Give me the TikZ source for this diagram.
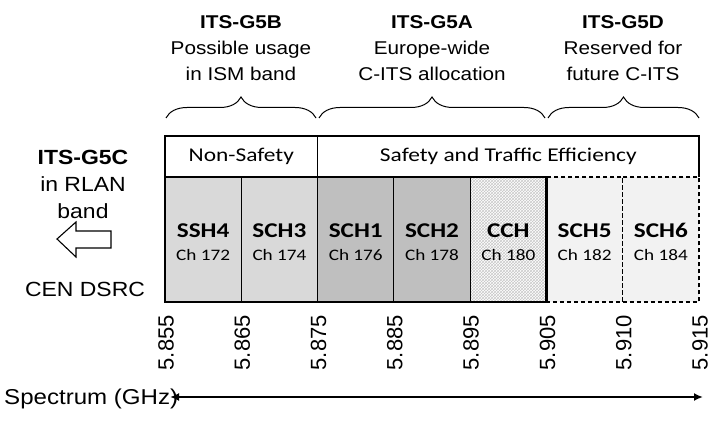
\documentclass[tikz,border=0pt]{standalone}
\usepackage{fontspec}
\setmainfont{Liberation Sans}[FakeStretch=1.12]
\newfontfamily\calfont{Carlito}[FakeStretch=1.2]
\newfontfamily\tickfont{Liberation Sans}
\usetikzlibrary{arrows.meta,positioning,fit,patterns,decorations.pathreplacing}
\definecolor{GLight}{HTML}{D9D9D9}
\definecolor{GDark}{HTML}{BFBFBF}
\definecolor{GPale}{HTML}{F2F2F2}
\definecolor{GDot}{HTML}{C8C8C8}
\newcommand{\chlabel}[2]{{\fontsize{21}{23}\selectfont\bfseries\rule{0pt}{26pt}#1}\\#2\rule[-7pt]{0pt}{7pt}}

\begin{document}
\begin{tikzpicture}[x=1pt,y=-1pt,
  node distance=0pt,
  chan/.style={draw,line width=1.1pt,minimum width=76.29pt,minimum height=125pt,
    inner sep=0pt,outer sep=0pt,align=center,
    font=\calfont\fontsize{16}{23}\selectfont},
  fut/.style={chan,fill=GPale,dash pattern=on 4pt off 3pt},
  hdr/.style={minimum height=41pt,inner sep=0pt,outer sep=0pt,anchor=south west,
    font=\calfont\fontsize{19.5}{23}\selectfont},
  ttl/.style={align=center,inner sep=0pt,anchor=south,
    font=\fontsize{18.5}{26}\selectfont},
  tick/.style={rotate=90,anchor=east,inner sep=0pt,
    font=\tickfont\fontsize{22}{24}\selectfont},
  brc/.style={decorate,decoration={brace,amplitude=21pt},line width=1pt},
  hl/.style={line width=1.1pt},
  frame/.style={draw,line width=2.4pt,inner sep=0pt,outer sep=0pt},
  spec/.style={{Latex[length=9pt,width=8pt]}-{Latex[length=9pt,width=8pt]},line width=2.4pt}
]
\useasboundingbox (0,0) rectangle (722,427);

% channels
\node[chan,fill=GLight] (ssh4) at (203.15,239.5) {\chlabel{SSH4}{Ch 172}};
\node[chan,fill=GLight,right=of ssh4] (sch3) {\chlabel{SCH3}{Ch 174}};
\node[chan,fill=GDark,right=of sch3] (sch1) {\chlabel{SCH1}{Ch 176}};
\node[chan,fill=GDark,right=of sch1] (sch2) {\chlabel{SCH2}{Ch 178}};
\node[chan,pattern=crosshatch,pattern color=GDot,right=of sch2] (cch) {\chlabel{CCH}{Ch 180}};
\node[fut,right=of cch] (sch5) {\chlabel{SCH5}{Ch 182}};
\node[fut,right=of sch5] (sch6) {\chlabel{SCH6}{Ch 184}};
\node[frame,fit=(ssh4)(cch)] (safe) {};

% headers
\node[hdr,minimum width=152.58pt] (nonsafe) at (ssh4.north west) {Non-Safety};
\node[hdr,minimum width=381.45pt] (safety) at (sch1.north west) {Safety and Traffic Efficiency};
\draw[hl] (nonsafe.south west) |- (safety.north east) -- (safety.south east);
\draw[hl] (nonsafe.north east) -- (nonsafe.south east);

% braces and band names
\draw[brc] (166,118) -- (316,118);
\draw[brc] (319,118) -- (545,118);
\draw[brc] (548,118) -- (699,118);
\node[ttl] (g5b) at (241,81) {\textbf{ITS-G5B}\\Possible usage\\in ISM band};
\node[ttl] (g5a) at (432,81) {\textbf{ITS-G5A}\\Europe-wide\\C-ITS allocation};
\node[ttl] (g5d) at (623,81) {\textbf{ITS-G5D}\\Reserved for\\future C-ITS};

% left side
\node[ttl,font=\fontsize{20.5}{27}\selectfont] (g5c) at (83,219) {\textbf{ITS-G5C}\\in RLAN\\band};
\draw[line width=1.1pt,fill=white] (57,239) -- (76,222) -- (76,231) -- (111,231)
  -- (111,248) -- (76,248) -- (76,257) -- cycle;
\node[font=\fontsize{20.5}{24}\selectfont,anchor=base,inner sep=0pt] (dsrc) at (85,297) {CEN DSRC};

% frequency axis
\foreach \i/\f in {0/5.855,1/5.865,2/5.875,3/5.885,4/5.895,5/5.905,6/5.910,7/5.915}
  \node[tick] (t\i) at ({166+76.29*\i},315) {\f};
\node[font=\fontsize{21.5}{24}\selectfont,anchor=base west,inner sep=0pt] (spectrum) at (4,404) {Spectrum (GHz)};
\coordinate (sL) at (170,397);
\coordinate (sR) at (703,397);
\draw[spec] (sL) -- (sR);
\end{tikzpicture}
\end{document}
